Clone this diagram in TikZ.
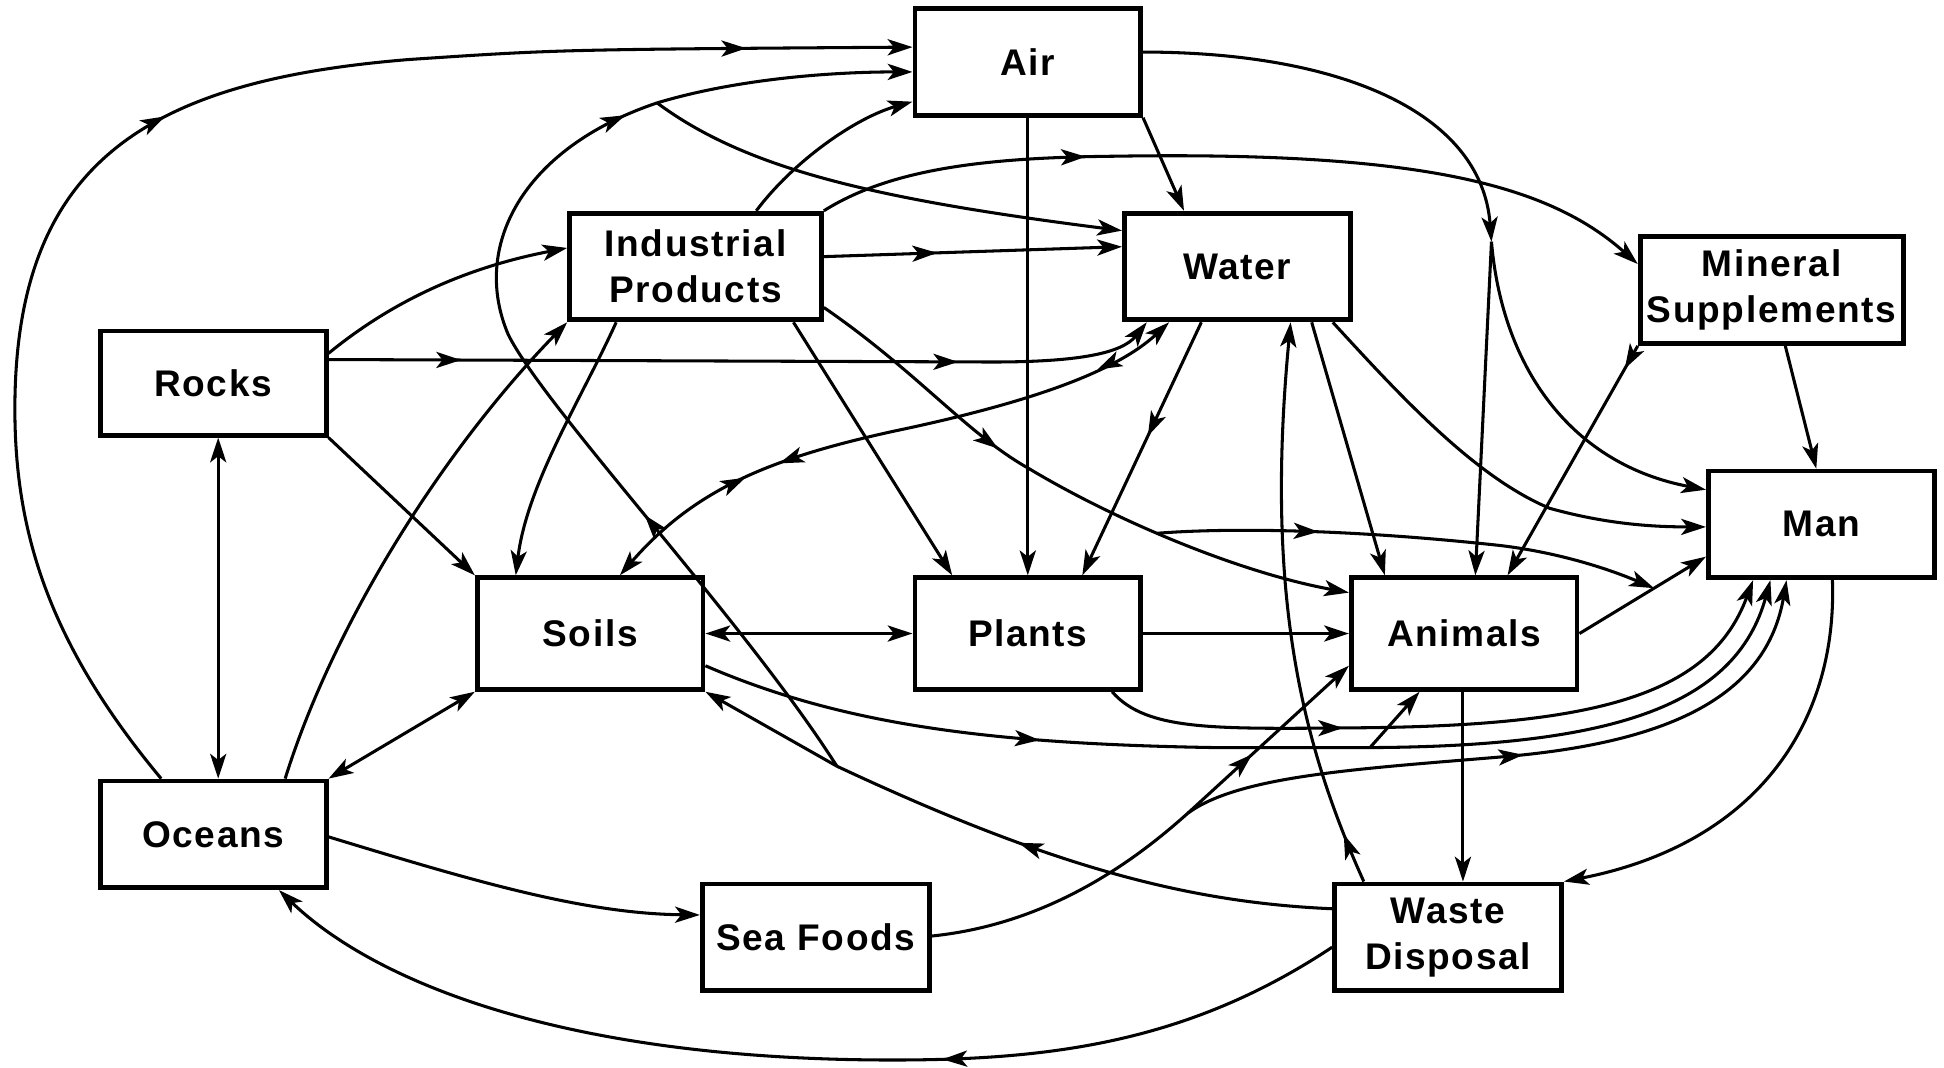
\documentclass[tikz,border=0pt]{standalone}
\usepackage{fontspec}
\setmainfont{Liberation Sans}[LetterSpace=4.5]
\usetikzlibrary{arrows.meta,decorations.markings}

\tikzset{
    box/.style={draw, line width=1.1pt, minimum width=1.82cm, minimum height=0.86cm,
        inner sep=0pt, align=center, font=\fontsize{8.5}{10.5}\selectfont\bfseries},
    flow/.style={line width=0.7pt},
    >={Stealth[length=2mm,width=1.3mm,inset=0.5mm]},
    mid/.style={postaction={decorate,decoration={markings,mark=at position #1 with {\arrow{>}}}}},
    midback/.style={postaction={decorate,decoration={markings,mark=at position #1 with {\arrowreversed{>}}}}},
}

\begin{document}
\begin{tikzpicture}[x=0.01cm, y=-0.01cm]
    \useasboundingbox (0,0) rectangle (1568,861);

    % Boxes
    \node [box] (air) at (829,50) {Air};
    \node [box, minimum width=2.03cm] (ind) at (561,215) {Industrial\\Products};
    \node [box] (water) at (998,215) {Water};
    \node [box, minimum width=2.12cm] (mineral) at (1429,234) {Mineral\\Supplements};
    \node [box, minimum height=0.84cm] (rocks) at (172,309) {Rocks};
    \node [box] (man) at (1469,423) {Man};
    \node [box, minimum height=0.9cm] (soils) at (476,511) {Soils};
    \node [box, minimum height=0.9cm] (plants) at (829,511) {Plants};
    \node [box, minimum height=0.9cm] (animals) at (1181,511) {Animals};
    \node [box] (oceans) at (172,673) {Oceans};
    \node [box, minimum width=1.83cm] (seafood) at (658,756) {Sea Foods};
    \node [box, minimum width=1.83cm] (waste) at (1168,756) {Waste\\Disposal};

    % Forks
    \coordinate (airfork) at (1203,195);
    \coordinate (wastefork) at (675,618);
    \coordinate (upfork) at (530,83);
    \coordinate (soilsfork) at (1105,603);
    \coordinate (seafork) at (958,656);

    % Oceans
    \draw [flow, ->, mid=0.5, mid=0.89] (oceans.north -| 130,0) .. controls (40,520) and (12,430) .. (12,330)
        .. controls (12,130) and (120,65) .. (330,48) .. controls (450,40) .. (air.west |- 0,38);
    \draw [flow, ->] (oceans.north -| 230,0) .. controls (270,500) and (360,360) .. (ind.south west);
    \draw [flow, <->] (rocks.south -| 176,0) -- (oceans.north -| 176,0);
    \draw [flow, <->] (oceans.north east) -- (soils.south west);
    \draw [flow, ->] (oceans.east |- 0,675) .. controls (380,710) and (470,737) .. (seafood.west |- 0,738);

    % Rocks
    \draw [flow, ->] (rocks.east |- 0,285) .. controls (320,240) and (380,215) .. (ind.west |- 0,200);
    \draw [flow, ->, mid=0.16, mid=0.76] (rocks.east |- 0,290) -- (800,292) .. controls (870,292) and (905,285) .. (water.south -| 925,0);
    \draw [flow, ->] (rocks.south east) -- (soils.north west);

    % Industrial products
    \draw [flow, ->] (ind.north -| 610,0) .. controls (640,130) and (690,95) .. (air.west |- 0,82);
    \draw [flow, ->, mid=0.32] (ind.north east) .. controls (720,135) and (800,127) .. (900,126)
        .. controls (1150,122) and (1250,150) .. (mineral.west |- 0,213);
    \draw [flow, ->, mid=0.38] (ind.east |- 0,207) -- (water.west |- 0,199);
    \draw [flow, ->] (ind.south -| 497,0) .. controls (470,320) and (425,390) .. (soils.north -| 416,0);
    \draw [flow, ->] (ind.south -| 640,0) -- (plants.north -| 768,0);
    \draw [flow, ->, mid=0.37] (ind.east |- 0,248) .. controls (740,300) and (780,350) .. (830,378)
        .. controls (900,420) and (1000,462) .. (animals.west |- 0,478) coordinate [pos=0.43] (indfork);

    % Water
    \draw [flow, <->, mid=0.26, midback=0.32, midback=0.86] (soils.north -| 500,0) .. controls (560,395) and (620,370) .. (720,348)
        .. controls (830,325) and (900,300) .. (water.south -| 943,0);
    \draw [flow, ->, mid=0.45] (water.south -| 969,0) -- (plants.north -| 873,0);
    \draw [flow, ->] (water.south -| 1058,0) -- (animals.north -| 1117,0);
    \draw [flow, ->] (water.south -| 1075,0) .. controls (1130,320) and (1190,385) .. (1250,410)
        .. controls (1300,424) and (1340,425) .. (man.west |- 0,425);
    \draw [flow, ->, mid=0.09] (waste.north -| 1100,0) .. controls (1050,600) and (1020,480) .. (water.south -| 1041,0);

    % Air
    \draw [flow, ->] (air.south) -- (plants.north);
    \draw [flow, ->] (air.south east) -- (water.north -| 955,0);
    \draw [flow, ->] (air.east |- 0,42) .. controls (1080,42) and (1195,90) .. (airfork);
    \draw [flow, ->] (airfork) -- (animals.north -| 1190,0);
    \draw [flow, ->] (airfork) .. controls (1212,300) and (1270,375) .. (man.west |- 0,395);

    % Mineral supplements
    \draw [flow, ->, mid=0.1] (mineral.south west) -- (animals.north -| 1216,0);
    \draw [flow, ->] (mineral.south -| 1440,0) -- (man.north -| 1465,0);

    % Soils, plants, animals
    \draw [flow, <->] (soils.east) -- (plants.west);
    \draw [flow, ->] (plants.east) -- (animals.west);
    \draw [flow, ->] (animals.east |- 0,511) -- (man.west |- 0,449) coordinate [pos=0.59] (manjoin);
    \draw [flow, ->, mid=0.32] (indfork) .. controls (1000,425) and (1100,428) .. (1210,440)
        .. controls (1260,446) and (1300,460) .. (manjoin);
    \draw [flow, ->] (animals.south -| 1180,0) -- (waste.north -| 1180,0);
    \draw [flow, ->] (man.south -| 1478,0) .. controls (1482,580) and (1420,680) .. (waste.north east);

    % Into man from below
    \draw [flow, mid=0.51] (soils.east |- 0,537) .. controls (680,585) and (800,600) .. (980,603) -- (soilsfork);
    \draw [flow, ->] (soilsfork) -- (animals.south -| 1145,0);
    \draw [flow, ->] (soilsfork) .. controls (1300,602) and (1400,570) .. (man.south -| 1428,0);
    \draw [flow, ->, mid=0.34] (plants.south -| 897,0) .. controls (925,590) and (980,588) .. (1100,587)
        .. controls (1290,585) and (1380,560) .. (man.south -| 1414,0);
    \draw [flow] (seafood.east |- 0,755) .. controls (850,745) and (920,690) .. (seafork);
    \draw [flow, ->, mid=0.4] (seafork) -- (animals.west |- 0,537);
    \draw [flow, ->, mid=0.5] (seafork) .. controls (1000,625) and (1100,620) .. (1217,610)
        .. controls (1350,598) and (1425,560) .. (man.south -| 1441,0);

    % Waste disposal
    \draw [flow, mid=0.62] (waste.west |- 0,733) .. controls (960,728) and (850,700) .. (wastefork);
    \draw [flow, ->] (wastefork) -- (soils.south east);
    \draw [flow, mid=0.37, mid=0.96] (wastefork) .. controls (600,500) and (440,330) .. (410,270)
        .. controls (380,200) and (420,120) .. (upfork);
    \draw [flow, ->] (upfork) .. controls (600,62) and (680,58) .. (air.west |- 0,58);
    \draw [flow, ->] (upfork) .. controls (600,135) and (700,160) .. (water.west |- 0,186);
    \draw [flow, ->, mid=0.37] (waste.west |- 0,764) .. controls (960,840) and (850,855) .. (720,855)
        .. controls (450,855) and (300,790) .. (oceans.south -| 225,0);
\end{tikzpicture}
\end{document}
